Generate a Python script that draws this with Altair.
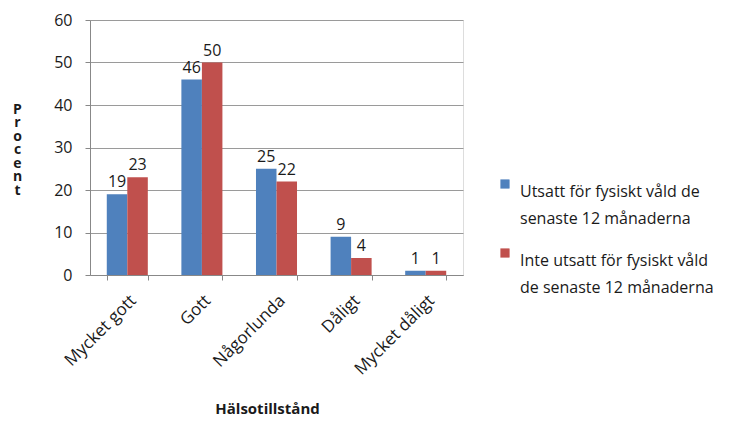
import altair as alt
import pandas as pd

categories = ["Mycket gott", "Gott", "Någorlunda", "Dåligt", "Mycket dåligt"]
series = [
    "Utsatt för fysiskt våld de\nsenaste 12 månaderna",
    "Inte utsatt för fysiskt våld\nde senaste 12 månaderna",
]
exposed = [19, 46, 25, 9, 1]
not_exposed = [23, 50, 22, 4, 1]
colors = ["#4F81BD", "#C0504D"]

rows = []
for i, cat in enumerate(categories):
    rows.append({"Hälsotillstånd": cat, "Grupp": series[0], "Procent": exposed[i], "ord": 0})
    rows.append({"Hälsotillstånd": cat, "Grupp": series[1], "Procent": not_exposed[i], "ord": 1})
df = pd.DataFrame(rows)

FONT = "Open Sans"
TXT = "#1a1a1a"

x_enc = alt.X(
    "Hälsotillstånd:N",
    sort=categories,
    scale=alt.Scale(paddingInner=0.45, paddingOuter=0.225),
    axis=alt.Axis(
        title="Hälsotillstånd",
        titleFont=FONT,
        titleFontSize=15,
        titleFontWeight="bold",
        titleColor=TXT,
        titleX=177,
        titleY=133,
        titleBaseline="middle",
        labelAngle=-45,
        labelAlign="right",
        labelBaseline="top",
        labelFont=FONT,
        labelFontSize=17,
        labelColor=TXT,
        labelPadding=12,
        tickBand="extent",
        tickSize=5,
        tickColor="#888888",
        domainColor="#888888",
        grid=False,
    ),
)
xoff = alt.XOffset("ord:O", scale=alt.Scale(paddingInner=0, paddingOuter=0))

bars = alt.Chart(df).mark_bar().encode(
    x=x_enc,
    xOffset=xoff,
    y=alt.Y(
        "Procent:Q",
        scale=alt.Scale(domain=[0, 60], nice=False),
        axis=alt.Axis(
            values=[0, 10, 20, 30, 40, 50, 60],
            title=["P", "r", "o", "c", "e", "n", "t"],
            titleAngle=0,
            titleFont=FONT,
            titleFontSize=14,
            titleFontWeight="bold",
            titleColor=TXT,
            titleLineHeight=13.5,
            titleX=-73,
            titleY=82,
            titleAlign="center",
            titleBaseline="top",
            labelFont=FONT,
            labelFontSize=16,
            labelColor=TXT,
            labelPadding=13,
            tickSize=5,
            tickColor="#888888",
            domainColor="#888888",
            gridColor="#9a9a9a",
            gridWidth=1,
        ),
    ),
    color=alt.Color(
        "Grupp:N",
        sort=series,
        scale=alt.Scale(domain=series, range=colors),
        legend=alt.Legend(
            title=None,
            orient="none",
            legendX=407,
            legendY=156,
            symbolType="square",
            symbolSize=85,
            symbolStrokeWidth=0,
            labelFont=FONT,
            labelFontSize=16,
            labelColor=TXT,
            labelLimit=300,
            labelBaseline="top",
            labelOffset=7,
            rowPadding=18,
            labelExpr="split(datum.label, '\\n')",
        ),
    ),
)

labels = alt.Chart(df).mark_text(
    dy=-4, font=FONT, fontSize=16, color=TXT, baseline="bottom"
).encode(
    x=alt.X("Hälsotillstånd:N", sort=categories),
    xOffset=xoff,
    y="Procent:Q",
    text="Procent:Q",
)

chart = (
    alt.layer(bars, labels)
    .properties(
        width=373,
        height=255,
        autosize=alt.AutoSizeParams(type="none"),
        padding={"left": 90, "top": 20, "right": 279, "bottom": 164},
    )
    .configure_view(stroke=None)
    .configure(style={"guide-label": {"lineHeight": 27}})
)

chart.save("out.html", embed_options={"renderer": "svg", "actions": False})
